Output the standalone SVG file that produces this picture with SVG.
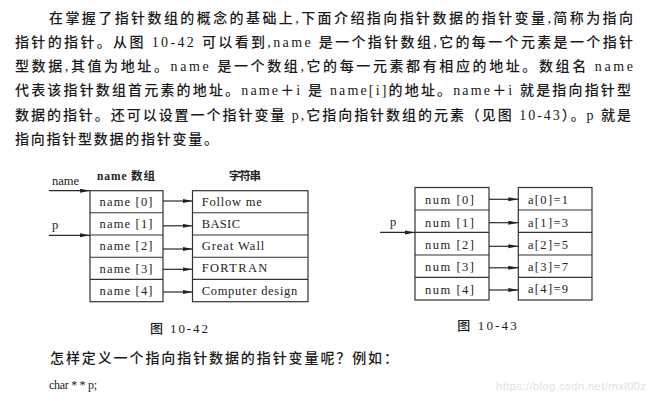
<svg xmlns="http://www.w3.org/2000/svg" width="650" height="404" viewBox="0 0 650 404">
<style>
.body{font-family:"Liberation Serif","Noto Sans CJK SC",serif;font-size:14px;fill:#1a1a1a;font-weight:500}
.lbl{font-family:"Liberation Serif","Noto Sans CJK SC",serif;font-size:12.5px;fill:#222}
.ttl{font-family:"Liberation Serif","Noto Sans CJK SC",serif;font-size:11.5px;fill:#222;font-weight:bold}
.box{fill:#fff;stroke:#333;stroke-width:1.2}
.sep{stroke:#333;stroke-width:1.1}
.con{stroke:#2a2a2a;stroke-width:1.2;fill:none}
.wm{font-family:"Liberation Sans",sans-serif;font-size:11.5px;fill:#e2e2e2}
</style>
<defs>
<marker id="ah" markerUnits="userSpaceOnUse" markerWidth="11" markerHeight="5" refX="10" refY="2" orient="auto">
<path d="M0,0 L10,2 L0,4 z" fill="#222"/>
</marker>
</defs>
<rect width="650" height="404" fill="#fff"/>

<g id="paragraph">
<text class="body" x="49" y="23" textLength="584" lengthAdjust="spacing">在掌握了指针数组的概念的基础上,下面介绍指向指针数据的指针变量,简称为指向</text>
<text class="body" x="15" y="46.5" textLength="618" lengthAdjust="spacing">指针的指针。从图 10-42 可以看到,name 是一个指针数组,它的每一个元素是一个指针</text>
<text class="body" x="15" y="71" textLength="618" lengthAdjust="spacing">型数据,其值为地址。name 是一个数组,它的每一元素都有相应的地址。数组名 name</text>
<text class="body" x="15" y="95" textLength="616" lengthAdjust="spacing">代表该指针数组首元素的地址。name＋i 是 name[i]的地址。name＋i 就是指向指针型</text>
<text class="body" x="15" y="119.5" textLength="616" lengthAdjust="spacing">数据的指针。还可以设置一个指针变量 p,它指向指针数组的元素（见图 10-43）。p 就是</text>
<text class="body" x="15" y="144" textLength="203" lengthAdjust="spacing">指向指针型数据的指针变量。</text>
</g>

<g id="fig42-titles">
<text class="ttl" x="97" y="179.5" textLength="58" lengthAdjust="spacing">name 数组</text>
<text class="ttl" x="229" y="179.5" textLength="32" lengthAdjust="spacing">字符串</text>
<text class="lbl" x="52" y="185" textLength="27" lengthAdjust="spacing">name</text>
<text class="lbl" x="52" y="229">p</text>
</g>

<g id="name-array">
<rect class="box" x="90" y="190.7" width="73" height="111"/>
<line class="sep" x1="90" y1="212.7" x2="163" y2="212.7"/>
<line class="sep" x1="90" y1="235" x2="163" y2="235"/>
<line class="sep" x1="90" y1="257.3" x2="163" y2="257.3"/>
<line class="sep" x1="90" y1="279.4" x2="163" y2="279.4"/>
<text class="lbl" x="99.5" y="206" textLength="53" lengthAdjust="spacing">name [0]</text>
<text class="lbl" x="99.5" y="227.8" textLength="53" lengthAdjust="spacing">name [1]</text>
<text class="lbl" x="99.5" y="250.3" textLength="53" lengthAdjust="spacing">name [2]</text>
<text class="lbl" x="99.5" y="272.6" textLength="53" lengthAdjust="spacing">name [3]</text>
<text class="lbl" x="99.5" y="295" textLength="53" lengthAdjust="spacing">name [4]</text>
</g>

<g id="strings">
<rect class="box" x="192.5" y="190.7" width="115.5" height="111"/>
<line class="sep" x1="192.5" y1="212.7" x2="308" y2="212.7"/>
<line class="sep" x1="192.5" y1="235" x2="308" y2="235"/>
<line class="sep" x1="192.5" y1="257.3" x2="308" y2="257.3"/>
<line class="sep" x1="192.5" y1="279.4" x2="308" y2="279.4"/>
<text class="lbl" x="201.7" y="205.5" textLength="60" lengthAdjust="spacing">Follow me</text>
<text class="lbl" x="201.7" y="227.6" textLength="38.3" lengthAdjust="spacing">BASIC</text>
<text class="lbl" x="201.7" y="250" textLength="62.6" lengthAdjust="spacing">Great Wall</text>
<text class="lbl" x="201.7" y="271.6" textLength="65.6" lengthAdjust="spacing">FORTRAN</text>
<text class="lbl" x="201.7" y="295" textLength="95.6" lengthAdjust="spacing">Computer design</text>
</g>

<g id="fig42-caption">
<text class="body" x="150" y="333" textLength="58" lengthAdjust="spacing" style="font-size:13px">图 10-42</text>
</g>

<g id="fig43-labels">
<text class="lbl" x="390" y="226">p</text>
</g>

<g id="num-array">
<rect class="box" x="415" y="187.5" width="74" height="112.5"/>
<line class="sep" x1="415" y1="210" x2="489" y2="210"/>
<line class="sep" x1="415" y1="232.4" x2="489" y2="232.4"/>
<line class="sep" x1="415" y1="255" x2="489" y2="255"/>
<line class="sep" x1="415" y1="277.4" x2="489" y2="277.4"/>
<text class="lbl" x="425" y="204.3" textLength="49" lengthAdjust="spacing">num [0]</text>
<text class="lbl" x="425" y="226.6" textLength="49" lengthAdjust="spacing">num [1]</text>
<text class="lbl" x="425" y="249" textLength="49" lengthAdjust="spacing">num [2]</text>
<text class="lbl" x="425" y="271.3" textLength="49" lengthAdjust="spacing">num [3]</text>
<text class="lbl" x="425" y="293.6" textLength="49" lengthAdjust="spacing">num [4]</text>
</g>

<g id="a-array">
<rect class="box" x="518.3" y="187.5" width="73.7" height="112.5"/>
<line class="sep" x1="518.3" y1="210" x2="592" y2="210"/>
<line class="sep" x1="518.3" y1="232.4" x2="592" y2="232.4"/>
<line class="sep" x1="518.3" y1="255" x2="592" y2="255"/>
<line class="sep" x1="518.3" y1="277.4" x2="592" y2="277.4"/>
<text class="lbl" x="528" y="204.3" textLength="40" lengthAdjust="spacing">a[0]=1</text>
<text class="lbl" x="528" y="227.3" textLength="40" lengthAdjust="spacing">a[1]=3</text>
<text class="lbl" x="528" y="249.3" textLength="40" lengthAdjust="spacing">a[2]=5</text>
<text class="lbl" x="528" y="271" textLength="40" lengthAdjust="spacing">a[3]=7</text>
<text class="lbl" x="528" y="292.6" textLength="40" lengthAdjust="spacing">a[4]=9</text>
</g>

<g id="fig43-caption">
<text class="body" x="457.3" y="330" textLength="59.4" lengthAdjust="spacing" style="font-size:13px">图 10-43</text>
</g>

<g id="connectors">
<line class="con" x1="49" y1="190.7" x2="90" y2="190.7" marker-end="url(#ah)"/>
<line class="con" x1="49" y1="235.3" x2="90" y2="235.3" marker-end="url(#ah)"/>
<line class="con" x1="163" y1="201" x2="192.5" y2="201" marker-end="url(#ah)"/>
<line class="con" x1="163" y1="225.8" x2="192.5" y2="225.8" marker-end="url(#ah)"/>
<line class="con" x1="163" y1="249" x2="192.5" y2="249" marker-end="url(#ah)"/>
<line class="con" x1="163" y1="269.3" x2="192.5" y2="269.3" marker-end="url(#ah)"/>
<line class="con" x1="163" y1="292" x2="192.5" y2="292" marker-end="url(#ah)"/>
<line class="con" x1="380" y1="232.4" x2="415" y2="232.4" marker-end="url(#ah)"/>
<line class="con" x1="489" y1="199.3" x2="518.3" y2="199.3" marker-end="url(#ah)"/>
<line class="con" x1="489" y1="222.7" x2="518.3" y2="222.7" marker-end="url(#ah)"/>
<line class="con" x1="489" y1="246.3" x2="518.3" y2="246.3" marker-end="url(#ah)"/>
<line class="con" x1="489" y1="267.8" x2="518.3" y2="267.8" marker-end="url(#ah)"/>
<line class="con" x1="489" y1="290" x2="518.3" y2="290" marker-end="url(#ah)"/>
</g>

<g id="footer">
<text class="body" x="50" y="363" textLength="348" lengthAdjust="spacing">怎样定义一个指向指针数据的指针变量呢？例如：</text>
<text class="body" x="49" y="389" textLength="48" lengthAdjust="spacing" style="font-size:12px;font-weight:normal">char * * p;</text>
<text class="wm" x="496" y="390" textLength="150" lengthAdjust="spacing">https://blog.csdn.net/mxl00z</text>
</g>
</svg>
